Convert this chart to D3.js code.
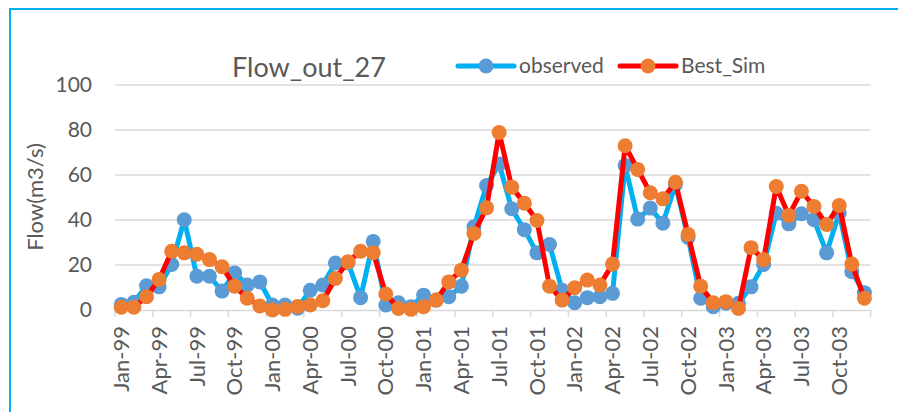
<!DOCTYPE html>
<html>
<head>
<meta charset="utf-8">
<script src="https://cdn.jsdelivr.net/npm/d3@7"></script>
<style>
  html, body { margin: 0; padding: 0; background: #fff; }
  svg { display: block; font-family: Lato, "Open Sans", sans-serif; }
</style>
</head>
<body>
<svg id="chart" width="898" height="412"></svg>
<script>
// months Jan-99 .. Dec-03
var months = ['Jan','Feb','Mar','Apr','May','Jun','Jul','Aug','Sep','Oct','Nov','Dec'];
var years = ['99','00','01','02','03'];
var categories = [];
years.forEach(function(y){ months.forEach(function(m){ categories.push(m + '-' + y); }); });

var observed = [2.5, 3.4, 10.8, 10.3, 20.2, 40.1, 15.0, 15.0, 8.4, 16.5, 11.1, 12.5,
                2.2, 2.2, 0.8, 8.8, 11.1, 20.9, 21.0, 5.5, 30.5, 2.2, 3.2, 1.5,
                6.6, 4.4, 5.9, 10.6, 37.0, 55.3, 64.9, 45.0, 35.7, 25.4, 29.1, 8.8,
                3.2, 5.5, 5.9, 7.4, 64.2, 40.4, 45.3, 38.6, 55.8, 32.2, 5.2, 1.5,
                3.0, 3.0, 10.3, 20.2, 43.0, 38.3, 42.8, 40.1, 25.4, 43.1, 17.0, 7.7];
var bestSim = [1.2, 1.2, 5.9, 13.6, 26.1, 25.4, 24.8, 22.4, 19.2, 10.6, 5.2, 1.8,
               0.0, 0.3, 1.6, 2.2, 4.1, 14.0, 21.4, 26.1, 25.5, 7.1, 0.7, 0.3,
               1.5, 4.4, 12.5, 17.7, 34.0, 45.4, 78.9, 54.6, 47.5, 39.8, 10.6, 4.4,
               9.9, 13.3, 11.1, 20.4, 73.0, 62.5, 52.1, 49.4, 56.8, 33.6, 10.6, 3.2,
               3.7, 0.7, 27.7, 22.4, 54.9, 42.0, 52.8, 46.0, 38.0, 46.5, 20.4, 5.2];
var yTicks = [0, 20, 40, 60, 80, 100];
var seriesNames = ['observed', 'Best_Sim'];

var svg = d3.select('#chart');
var textColor = '#595959';
var gridColor = '#d9d9d9';

// outer chart frame
svg.append('rect')
   .attr('x', 10).attr('y', 9)
   .attr('width', 900).attr('height', 420)
   .attr('fill', 'none')
   .attr('stroke', '#00b0f0')
   .attr('stroke-width', 2);

var plotLeft = 115, plotRight = 870.7, plotTop = 85, plotBottom = 310;

var x = d3.scaleBand().domain(categories).range([plotLeft, plotRight]);
var y = d3.scaleLinear().domain([0, 100]).range([plotBottom, plotTop]);

// grid
svg.append('g').selectAll('line')
   .data(yTicks.filter(function(d){ return d > 0; }))
   .enter().append('line')
   .attr('x1', plotLeft).attr('x2', plotRight)
   .attr('y1', function(d){ return y(d); })
   .attr('y2', function(d){ return y(d); })
   .attr('stroke', gridColor)
   .attr('stroke-width', 1.5);

// y axis labels
svg.append('g').selectAll('text')
   .data(yTicks)
   .enter().append('text')
   .attr('x', 92)
   .attr('y', function(d){ return y(d); })
   .attr('dy', '0.35em')
   .attr('text-anchor', 'end')
   .style('font-size', '21px')
   .style('fill', textColor)
   .text(function(d){ return d; });

// x axis
var xAxis = d3.axisBottom(x)
   .tickValues(categories.filter(function(d, i){ return i % 3 === 0; }))
   .tickSize(0);
var gx = svg.append('g').attr('transform', 'translate(0,' + plotBottom + ')').call(xAxis);
gx.select('.domain').attr('stroke', gridColor).attr('stroke-width', 1.5);
gx.selectAll('.tick text')
  .attr('transform', 'rotate(-90)')
  .attr('x', -16).attr('y', 0).attr('dy', '0.35em')
  .attr('text-anchor', 'end')
  .style('font-family', 'Lato, "Open Sans", sans-serif')
  .style('font-size', '22px')
  .style('fill', textColor);

// tick marks between categories, every 3 months
var tickPos = d3.range(0, categories.length + 1, 3);
svg.append('g').selectAll('line')
   .data(tickPos)
   .enter().append('line')
   .attr('x1', function(i){ return plotLeft + i * x.step(); })
   .attr('x2', function(i){ return plotLeft + i * x.step(); })
   .attr('y1', plotBottom).attr('y2', plotBottom + 7)
   .attr('stroke', gridColor)
   .attr('stroke-width', 1.5);

// y title
svg.append('text')
   .attr('transform', 'translate(43,197) rotate(-90)')
   .attr('text-anchor', 'middle')
   .style('font-size', '22px')
   .style('fill', textColor)
   .text('Flow(m3/s)');

// chart title
svg.append('text')
   .attr('x', 309).attr('y', 77)
   .attr('text-anchor', 'middle')
   .style('font-size', '27px')
   .style('fill', textColor)
   .text('Flow_out_27');

var cx = function(d, i){ return x(categories[i]) + x.bandwidth() / 2; };
var line = d3.line()
   .x(function(d, i){ return x(categories[i]) + x.bandwidth() / 2; })
   .y(function(d){ return y(d); });

var series = [
  {name: seriesNames[0], values: observed, line: '#00b0f0', dot: '#5b9bd5'},
  {name: seriesNames[1], values: bestSim, line: '#ff0000', dot: '#ed7d31'}
];

series.forEach(function(s){
  var g = svg.append('g');
  g.append('path')
   .datum(s.values)
   .attr('d', line)
   .attr('fill', 'none')
   .attr('stroke', s.line)
   .attr('stroke-width', 5)
   .attr('stroke-linejoin', 'round');
  g.selectAll('circle')
   .data(s.values)
   .enter().append('circle')
   .attr('cx', cx)
   .attr('cy', function(d){ return y(d); })
   .attr('r', 7.5)
   .attr('fill', s.dot);
});

// legend
svg.append('g').selectAll('g')
   .data(series)
   .enter().append('g')
   .attr('transform', function(d, i){ return 'translate(' + (i === 0 ? 458 : 620) + ',66)'; })
   .each(function(d){
     var sel = d3.select(this);
     sel.append('line')
        .attr('x1', 0).attr('x2', 56)
        .attr('stroke', d.line).attr('stroke-width', 5)
        .attr('stroke-linecap', 'round');
     sel.append('circle').attr('cx', 28).attr('r', 7.5).attr('fill', d.dot);
     sel.append('text')
        .attr('x', 61).attr('dy', '0.35em')
        .style('font-size', '21px')
        .style('fill', textColor)
        .text(d.name);
   });
</script>
</body>
</html>
